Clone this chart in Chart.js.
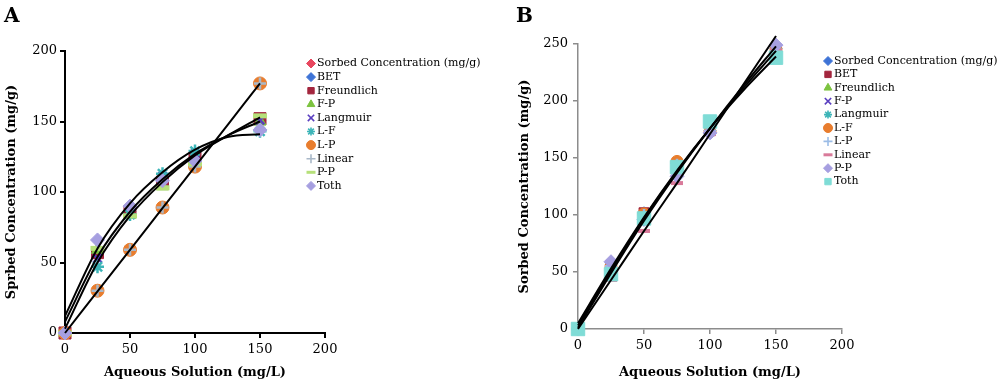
<!DOCTYPE html>
<html>
<head>
<meta charset="utf-8">
<script src="https://cdn.jsdelivr.net/npm/chart.js@4.4.1/dist/chart.umd.min.js"></script>
<style>
  body { margin: 0; background: #fff; width: 1000px; height: 382px; overflow: hidden; position: relative; font-family: "DejaVu Serif", serif; }
  .wrap { position: absolute; top: 0; width: 500px; height: 382px; }
  #wrapA { left: 0; }
  #wrapB { left: 500px; }
  .tag { position: absolute; top: 3px; font: bold 20px "DejaVu Serif", serif; color: #000; }
</style>
</head>
<body>
<div class="wrap" id="wrapA"><canvas id="chartA"></canvas></div>
<div class="wrap" id="wrapB"><canvas id="chartB"></canvas></div>
<div class="tag" style="left:4px">A</div>
<div class="tag" style="left:516px">B</div>
<script>
// data
const xVals = [0, 25, 50, 75, 100, 150];
const trendX = [0, 25, 50, 75, 100, 125, 150];
const yTicks = [0, 50, 100, 150, 200, 250];

// panel A
const namesA = ['Sorbed Concentration (mg/g)', 'BET', 'Freundlich', 'F-P', 'Langmuir', 'L-F', 'L-P', 'Linear', 'P-P', 'Toth'];
const sorbedA = [0, 58, 86, 107, 124, 152];
const betA = [0, 57, 86, 106, 124, 151];
const freundA = [0, 57, 86, 107, 124, 152];
const fpA = [0, 59, 84, 104, 121, 150];
const langA = [0, 53, 85, 111, 127, 151];
const lfA = [0, 47, 84, 113, 129, 143];
const lpA = [0, 30, 59, 89, 118, 177];
const linearA = [0, 30, 59, 89, 118, 177];
const ppA = [0, 60, 83, 103, 120, 154];
const tothA = [0, 66, 90, 108, 122, 144];
const trendA1 = [0, 29.5, 59, 88.5, 118, 147.5, 177];
const trendA2 = [12, 60, 92, 114, 130, 139, 141];
const trendA3 = [3, 50, 83, 107, 126, 140, 153];
const trendA4 = [8, 54, 86, 109, 127, 140, 150];

// panel B
const namesB = ['Sorbed Concentration (mg/g)', 'BET', 'Freundlich', 'F-P', 'Langmuir', 'L-F', 'L-P', 'Linear', 'P-P', 'Toth'];
const sorbedB = [0, 57, 102, 145, 174, 246];
const betB = [0, 56, 102, 145, 174, 246];
const freundB = [0, 56, 101, 146, 174, 245];
const fpB = [0, 55, 100, 144, 173, 244];
const langB = [0, 54, 100, 143, 174, 244];
const lfB = [0, 55, 101, 147, 173, 245];
const lpB = [0, 55, 100, 144, 174, 245];
const linearB = [0, 43, 86, 128, 171, 244];
const ppB = [0, 59, 96, 134, 172, 249];
const tothB = [0, 48, 97, 142, 182, 238];
const trendB1 = [0, 43, 86, 128, 171, 214, 257];
const trendB2 = [5, 53, 98, 139, 176, 209, 239];
const trendB3 = [3, 51, 97, 138, 176, 211, 244];
const trendB4 = [1, 49, 95, 137, 176, 213, 248];

// marker looks, same order as the legend (w = stroke width)
const stylesA = [
  { c: '#e8475f', s: 'rectRot', r: 5, w: 1 },
  { c: '#3e73d6', s: 'rectRot', r: 6, w: 1 },
  { c: '#a3263e', s: 'rect', r: 8.5, w: 1 },
  { c: '#7cc33f', s: 'triangle', r: 7, w: 1 },
  { c: '#5a3fc0', s: 'crossRot', r: 6, w: 2.5 },
  { c: '#3db5b8', s: 'star', r: 6.5, w: 2.5 },
  { c: '#e87d2e', s: 'circle', r: 6.5, w: 1 },
  { c: '#a9b8c8', s: 'cross', r: 6, w: 2.5 },
  { c: '#b6e07a', s: 'line', r: 7, w: 5 },
  { c: '#a69fe0', s: 'rectRot', r: 7, w: 1 }
];
const stylesB = [
  { c: '#3e73d6', s: 'rectRot', r: 6, w: 1 },
  { c: '#a3263e', s: 'rect', r: 7, w: 1 },
  { c: '#7cc33f', s: 'triangle', r: 6, w: 1 },
  { c: '#5a3fc0', s: 'crossRot', r: 6, w: 2.5 },
  { c: '#3db5b8', s: 'star', r: 6, w: 2.5 },
  { c: '#e87d2e', s: 'circle', r: 6, w: 1 },
  { c: '#9bbce6', s: 'cross', r: 6, w: 2.5 },
  { c: '#d97a9a', s: 'line', r: 6, w: 4 },
  { c: '#a69fe0', s: 'rectRot', r: 7, w: 1 },
  { c: '#7fdcd6', s: 'rect', r: 9.5, w: 1 }
];

function pts(xs, ys) {
  return xs.map((x, i) => ({ x: x, y: ys[i] }));
}

function buildSets(names, series, styles, trends) {
  const sets = series.map((ys, i) => ({
    type: 'scatter',
    label: names[i],
    data: pts(xVals, ys),
    pointStyle: styles[i].s,
    pointRadius: styles[i].r,
    pointBackgroundColor: styles[i].c,
    pointBorderColor: styles[i].c,
    pointBorderWidth: styles[i].w,
    clip: false,
    order: 20 - i,
    legendStyle: styles[i]
  }));
  trends.forEach(ys => {
    sets.push({
      type: 'line',
      data: pts(trendX, ys),
      borderColor: '#000',
      borderWidth: 2,
      pointRadius: 0,
      cubicInterpolationMode: 'monotone',
      fill: false,
      clip: false,
      order: 0
    });
  });
  return sets;
}

// legend drawn by hand so it sits where the original one is
const sideLegend = {
  id: 'sideLegend',
  afterDraw(chart, args, opts) {
    const ctx = chart.ctx;
    ctx.save();
    ctx.font = opts.font;
    ctx.textBaseline = 'middle';
    chart.data.datasets.filter(d => d.label).forEach((d, i) => {
      const y = opts.y + i * opts.row;
      const st = d.legendStyle;
      let lw = 1;
      if (st.s === 'line') lw = 3;
      else if (st.w > 1) lw = 1.6;
      ctx.fillStyle = st.c;
      ctx.strokeStyle = st.c;
      ctx.lineWidth = lw;
      Chart.helpers.drawPoint(ctx, { pointStyle: st.s, radius: st.s === 'star' ? 4 : 4.5, borderWidth: lw }, opts.x, y);
      ctx.fillStyle = '#000';
      ctx.fillText(d.label, opts.x + 6, y);
    });
    ctx.restore();
  }
};

function makeChart(id, sets, cfg) {
  const tickFont = { family: 'DejaVu Serif', size: 13 };
  const titleFont = { family: 'DejaVu Serif', size: 13, weight: 'bold' };
  return new Chart(document.getElementById(id), {
    data: { datasets: sets },
    plugins: [sideLegend],
    options: {
      responsive: true,
      maintainAspectRatio: false,
      animation: false,
      layout: { padding: { left: 0, right: cfg.padRight, top: cfg.padTop, bottom: 0 } },
      plugins: {
        legend: { display: false },
        tooltip: { enabled: false },
        sideLegend: { x: cfg.legX, y: cfg.legY, row: cfg.legRow, font: '11px "DejaVu Serif"' }
      },
      scales: {
        x: {
          type: 'linear',
          min: 0,
          max: 200,
          afterFit: s => { s.height = cfg.xH; },
          ticks: { stepSize: 50, color: '#000', font: tickFont, padding: 4, maxRotation: 0 },
          grid: { drawOnChartArea: false, tickLength: 5, color: cfg.axisColor, lineWidth: cfg.axisWidth },
          border: { color: cfg.axisColor, width: cfg.axisWidth },
          title: { display: true, text: 'Aqueous Solution (mg/L)', color: '#000', font: titleFont, padding: { top: 0, bottom: 2 } }
        },
        y: {
          type: 'linear',
          min: 0,
          max: cfg.yMax,
          afterFit: s => { s.width = cfg.yW; },
          afterBuildTicks: s => { s.ticks = yTicks.filter(v => v <= cfg.yMax).map(v => ({ value: v })); },
          ticks: { color: '#000', font: tickFont, padding: cfg.yPad },
          grid: { drawOnChartArea: false, tickLength: 5, color: cfg.axisColor, lineWidth: cfg.axisWidth },
          border: { color: cfg.axisColor, width: cfg.axisWidth },
          title: { display: true, text: cfg.yTitle, color: '#000', font: titleFont, padding: { top: cfg.yTitlePad, bottom: 0 } }
        }
      }
    }
  });
}

makeChart('chartA',
  buildSets(namesA, [sorbedA, betA, freundA, fpA, langA, lfA, lpA, linearA, ppA, tothA], stylesA, [trendA1, trendA2, trendA3, trendA4]),
  { padRight: 175, padTop: 51, xH: 49, yW: 65, yMax: 200, yPad: 3, axisColor: '#000', axisWidth: 2,
    yTitle: 'Sprbed Concentration (mg/g)', yTitlePad: 4, legX: 311, legY: 63.5, legRow: 13.6 });

makeChart('chartB',
  buildSets(namesB, [sorbedB, betB, freundB, fpB, langB, lfB, lpB, linearB, ppB, tothB], stylesB, [trendB1, trendB2, trendB3, trendB4]),
  { padRight: 158, padTop: 44, xH: 53, yW: 78, yMax: 250, yPad: 5, axisColor: '#8c8c8c', axisWidth: 1.5,
    yTitle: 'Sorbed Concentration (mg/g)', yTitlePad: 17, legX: 328, legY: 61, legRow: 13.4 });
</script>
</body>
</html>
